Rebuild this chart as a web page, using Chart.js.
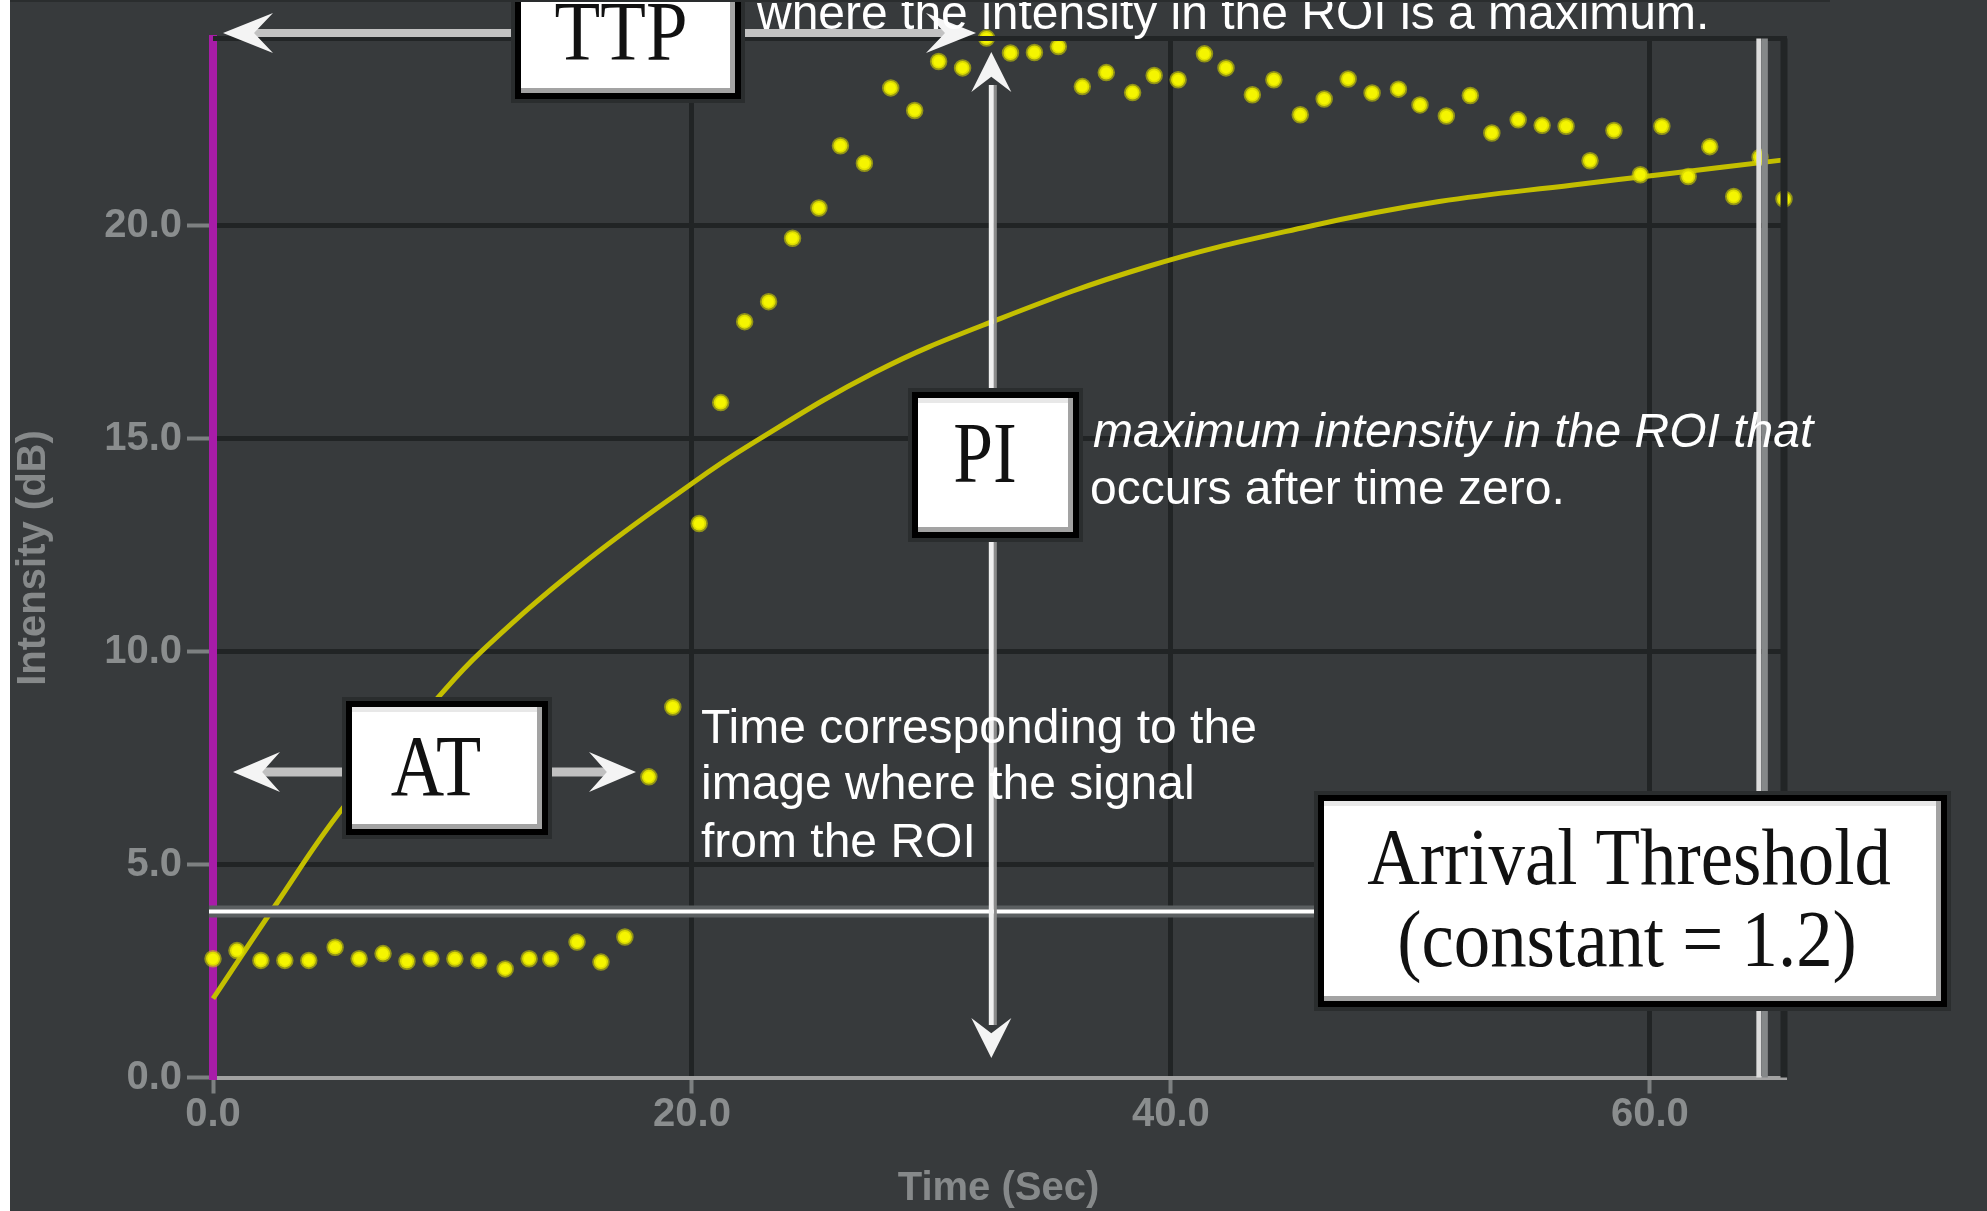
<!DOCTYPE html>
<html>
<head>
<meta charset="utf-8">
<style>
  html, body { margin: 0; padding: 0; background: #373a3c; }
  canvas { display: block; }
</style>
<script src="https://cdn.jsdelivr.net/npm/chart.js@4.4.1/dist/chart.umd.min.js"></script>
</head>
<body>
<canvas id="chart" width="1987" height="1211"></canvas>
<script>
// ROI samples: time (s) and intensity (dB)
var times = [0.0, 1.0, 2.0, 3.0, 4.0, 5.1, 6.1, 7.1, 8.1, 9.1,
  10.1, 11.1, 12.2, 13.2, 14.1, 15.2, 16.2, 17.2, 18.2, 19.2,
  20.3, 21.2, 22.2, 23.2, 24.2, 25.3, 26.2, 27.2, 28.3, 29.3,
  30.3, 31.3, 32.3, 33.3, 34.3, 35.3, 36.3, 37.3, 38.4, 39.3,
  40.3, 41.4, 42.3, 43.4, 44.3, 45.4, 46.4, 47.4, 48.4, 49.5,
  50.4, 51.5, 52.5, 53.4, 54.5, 55.5, 56.5, 57.5, 58.5, 59.6,
  60.5, 61.6, 62.5, 63.5, 64.6, 65.6];
var intensity = [2.79, 2.98, 2.75, 2.75, 2.75, 3.06, 2.79, 2.91, 2.73, 2.79,
  2.79, 2.75, 2.55, 2.79, 2.79, 3.18, 2.71, 3.30, 7.06, 8.70,
  13.01, 15.85, 17.75, 18.22, 19.71, 20.42, 21.88, 21.47, 23.24, 22.71,
  23.86, 23.71, 24.41, 24.06, 24.07, 24.21, 23.27, 23.60, 23.13, 23.53,
  23.43, 24.04, 23.71, 23.08, 23.43, 22.61, 22.98, 23.45, 23.12, 23.21,
  22.84, 22.58, 23.06, 22.18, 22.49, 22.36, 22.34, 21.53, 22.24, 21.20,
  22.34, 21.16, 21.86, 20.69, 21.61, 20.63];

// fitted curve, points
var fitTimes = [0.0, 2.6, 5.4, 9.3, 11.2, 15.3, 20.0, 22.4, 27.6, 32.4, 39.0, 45.7, 51.2, 56.8, 60.4, 65.6];
var fitValues = [1.85, 4.04, 6.31, 8.86, 10.0, 12.0, 13.95, 14.85, 16.55, 17.72, 19.04, 19.98, 20.57, 20.96, 21.2, 21.55];

var xTicks = [0, 20, 40, 60];
var xTickLabels = ['0.0', '20.0', '40.0', '60.0'];
var yTicks = [0, 5, 10, 15, 20];
var yTickLabels = ['0.0', '5.0', '10.0', '15.0', '20.0'];

var thresholdLevel = 3.9;   // arrival threshold (dB)
var peakTime = 32.5;        // PI marker
var endTime = 64.55;        // end of acquisition marker

var sans = '"Liberation Sans", Arial, sans-serif';
var serif = '"Liberation Serif", "Times New Roman", serif';

function seg(c, x1, y1, x2, y2, col, lw) {
  c.beginPath();
  c.moveTo(x1, y1);
  c.lineTo(x2, y2);
  c.strokeStyle = col;
  c.lineWidth = lw;
  c.stroke();
}

function head(c, tx, ty, ang, len, w) {
  c.save();
  c.translate(tx, ty);
  c.rotate(ang);
  c.beginPath();
  c.moveTo(0, 0);
  c.lineTo(-len, -w / 2);
  c.lineTo(-len * 0.62, 0);
  c.lineTo(-len, w / 2);
  c.closePath();
  c.fillStyle = '#f4f4f4';
  c.fill();
  c.restore();
}

function box(c, x, y, w, h) {
  c.fillStyle = '#2a2d2e';
  c.fillRect(x - 4, y - 4, w + 8, h + 8);
  c.fillStyle = '#000';
  c.fillRect(x, y, w, h);
  c.fillStyle = '#fff';
  c.fillRect(x + 6, y + 6, w - 12, h - 12);
  c.fillStyle = '#e8e8e8';
  c.fillRect(x + 6, y + 6, w - 12, 5);
  c.fillStyle = '#a3a3a3';
  c.fillRect(x + w - 11, y + 6, 5, h - 12);
  c.fillRect(x + 6, y + h - 11, w - 12, 5);
}

function label(c, text, cx, base, size, sx) {
  c.save();
  c.translate(cx, base);
  c.scale(sx, 1);
  c.font = size + 'px ' + serif;
  c.textAlign = 'center';
  c.textBaseline = 'alphabetic';
  c.fillStyle = '#111';
  c.fillText(text, 0, 0);
  c.restore();
}

var decor = {
  id: 'decor',
  beforeDraw: function (chart) {
    var c = chart.ctx;
    c.save();
    c.fillStyle = '#373a3c';
    c.fillRect(0, 0, chart.width, chart.height);
    c.restore();
  },
  afterDatasetsDraw: function (chart) {
    var c = chart.ctx, a = chart.chartArea;
    var sx = chart.scales.x, sy = chart.scales.y;
    c.save();
    // frame top / right
    seg(c, a.left, a.top, a.right + 3, a.top, '#222526', 5);
    seg(c, a.right, a.top, a.right, a.bottom, '#222526', 7);
    // end marker
    var ex = sx.getPixelForValue(endTime);
    seg(c, ex + 6, a.top, ex + 6, a.bottom, '#858889', 6);
    seg(c, ex, a.top, ex, a.bottom, '#dcdcdc', 5);
    // threshold line
    var ty = sy.getPixelForValue(thresholdLevel);
    seg(c, a.left - 4, ty, 1318, ty, '#5b5f61', 12);
    seg(c, a.left - 4, ty, 1318, ty, '#ffffff', 4);
    c.restore();
  },
  afterDraw: function (chart) {
    var c = chart.ctx;
    var px = chart.scales.x.getPixelForValue(peakTime);
    c.save();

    // TTP arrow
    seg(c, 250, 33, 515, 33, '#c2c2c2', 8);
    seg(c, 741, 33, 950, 33, '#c2c2c2', 8);
    head(c, 223, 33, Math.PI, 50, 40);
    head(c, 976, 33, 0, 50, 40);

    // PI arrow
    seg(c, px + 4, 85, px + 4, 392, '#8c8c8c', 3);
    seg(c, px, 85, px, 392, '#f0f0f0', 5);
    seg(c, px + 4, 538, px + 4, 1025, '#8c8c8c', 3);
    seg(c, px, 538, px, 1025, '#f0f0f0', 5);
    head(c, px, 52, -Math.PI / 2, 40, 40);
    head(c, px, 1058, Math.PI / 2, 40, 40);

    // AT arrow
    seg(c, 255, 772, 346, 772, '#c0c0c0', 9);
    seg(c, 548, 772, 610, 772, '#c0c0c0', 9);
    head(c, 233, 772, Math.PI, 47, 40);
    head(c, 636, 772, 0, 47, 40);

    // boxes
    box(c, 515, -10, 226, 109);
    label(c, 'TTP', 621, 60, 84, 0.89);
    box(c, 912, 392, 167, 146);
    label(c, 'PI', 985, 482, 86, 0.83);
    box(c, 346, 701, 202, 134);
    label(c, 'AT', 436, 795, 86, 0.86);
    box(c, 1318, 795, 629, 212);
    label(c, 'Arrival Threshold', 1629, 884, 80, 0.91);
    label(c, '(constant = 1.2)', 1627, 966, 80, 0.91);

    // captions
    c.fillStyle = '#ffffff';
    c.textAlign = 'left';
    c.textBaseline = 'alphabetic';
    c.font = '48px ' + sans;
    c.fillText('where the intensity in the ROI is a maximum.', 757, 29);
    c.font = 'italic 48px ' + sans;
    c.fillText('maximum intensity in the ROI that', 1093, 447);
    c.font = '48px ' + sans;
    c.fillText('occurs after time zero.', 1090, 504);
    c.fillText('Time corresponding to the', 701, 743);
    c.fillText('image where the signal', 701, 799);
    c.fillText('from the ROI', 701, 857);

    // slide edges
    c.fillStyle = '#2a2d2e';
    c.fillRect(10, 0, 1820, 2);
    c.fillStyle = '#ffffff';
    c.fillRect(0, 0, 10, chart.height);
    c.restore();
  }
};

var tickFont = { family: sans, size: 40, weight: 'bold', lineHeight: 1.0 };

new Chart(document.getElementById('chart'), {
  type: 'scatter',
  data: {
    datasets: [{
      label: 'ROI',
      data: times.map(function (t, i) { return { x: t, y: intensity[i] }; }),
      pointRadius: 7,
      pointBackgroundColor: '#f5f500',
      pointBorderColor: 'rgba(205,205,0,0.6)',
      pointBorderWidth: 3.5,
      showLine: false,
      clip: false,
      order: 0
    }, {
      label: 'fit',
      data: fitTimes.map(function (t, i) { return { x: t, y: fitValues[i] }; }),
      showLine: true,
      pointRadius: 0,
      borderColor: '#c4bf00',
      borderWidth: 5,
      tension: 0.4,
      clip: false,
      order: 1
    }]
  },
  options: {
    responsive: false,
    animation: false,
    events: [],
    layout: { padding: { left: 0, top: 38.5, right: 203, bottom: 0 } },
    plugins: { legend: { display: false }, tooltip: { enabled: false } },
    scales: {
      x: {
        type: 'linear',
        min: 0,
        max: 65.6,
        afterBuildTicks: function (s) { s.ticks = xTicks.map(function (v) { return { value: v }; }); },
        afterFit: function (s) { s.height = 133.5; },
        ticks: {
          callback: function (v, i) { return xTickLabels[i]; },
          color: '#8a8d8e', font: tickFont, padding: 1, maxRotation: 0, autoSkip: false
        },
        grid: {
          color: function (ctx) { return ctx.tick && ctx.tick.value === 0 ? 'rgba(0,0,0,0)' : '#212425'; },
          lineWidth: 5, tickColor: '#7d8081', tickLength: 16, tickWidth: 4
        },
        border: { color: '#a2a2a2', width: 4 },
        title: {
          display: true, text: 'Time (Sec)', color: '#86898a',
          font: { family: sans, size: 40, weight: 'bold', lineHeight: 1.1 }, padding: 0
        }
      },
      y: {
        type: 'linear',
        min: 0,
        max: 24.4,
        afterBuildTicks: function (s) { s.ticks = yTicks.map(function (v) { return { value: v }; }); },
        afterFit: function (s) { s.width = 213; },
        ticks: {
          callback: function (v, i) { return yTickLabels[i]; },
          color: '#8a8d8e', font: tickFont, padding: 5, autoSkip: false
        },
        grid: {
          color: function (ctx) { return ctx.tick && ctx.tick.value === 0 ? 'rgba(0,0,0,0)' : '#212425'; },
          lineWidth: 5, tickColor: '#7d8081', tickLength: 26, tickWidth: 4
        },
        border: { color: '#a81ca8', width: 8 },
        title: {
          display: true, text: 'Intensity (dB)', color: '#86898a',
          font: { family: sans, size: 40, weight: 'bold' }, padding: { top: 10, bottom: 0 }
        }
      }
    }
  },
  plugins: [decor]
});
</script>
</body>
</html>
